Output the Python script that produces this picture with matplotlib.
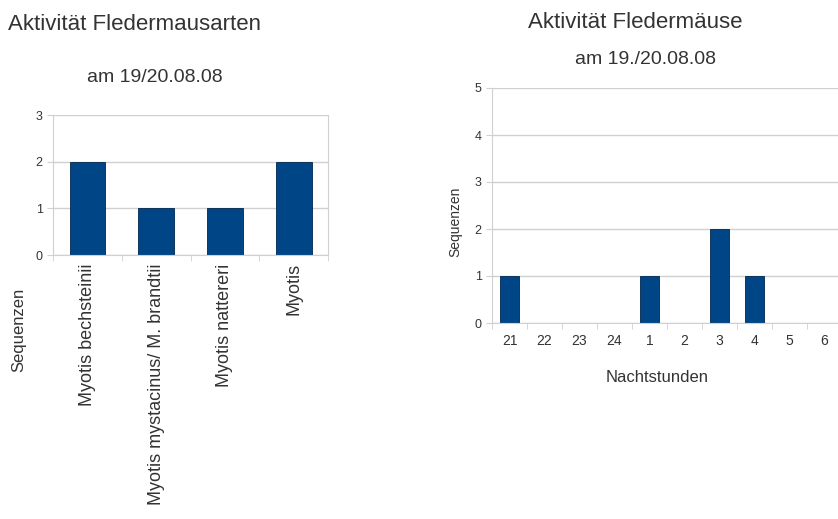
import numpy as np
import matplotlib.pyplot as plt

plt.rcParams['font.family'] = ['Liberation Sans', 'DejaVu Sans']

# ———————————————— data
arten = ['Myotis bechsteinii', 'Myotis mystacinus/ M. brandtii',
         'Myotis nattereri', 'Myotis']
arten_seq = [2, 1, 1, 2]

stunden = ['21', '22', '23', '24', '1', '2', '3', '4', '5', '6']
stunden_seq = [1, 0, 0, 0, 1, 0, 2, 1, 0, 0]

bar_col = '#004586'
grid_col = '#d0d0d0'
txt_col = '#333333'

W, H = 838, 519
fig = plt.figure(figsize=(W / 100, H / 100), dpi=100)


def px_axes(x0, y0, x1, y1):
    # pixel box (top-left origin) -> figure axes
    return fig.add_axes([x0 / W, 1 - y1 / H, (x1 - x0) / W, (y1 - y0) / H])


def style(ax, n, ymax):
    ax.set_xlim(-0.5, n - 0.5)
    ax.set_ylim(0, ymax)
    ax.set_yticks(np.arange(0, ymax + 1, 1))
    ax.set_xticks(np.arange(n + 1) - 0.5, minor=True)
    ax.tick_params(axis='x', which='major', length=0, colors=txt_col, labelsize=10)
    ax.tick_params(axis='x', which='minor', length=4, color=grid_col)
    ax.tick_params(axis='y', length=4, color=grid_col, colors=txt_col, labelsize=9)
    ax.yaxis.grid(True, color=grid_col, linewidth=1)
    ax.set_axisbelow(True)
    for s in ax.spines.values():
        s.set_color(grid_col)
    ax.spines['top'].set_visible(False)


# ———————————————— left chart
ax1 = px_axes(53, 115, 328, 255)
x = np.arange(len(arten))
ax1.bar(x, arten_seq, width=0.52, color=bar_col, edgecolor='#00264d', linewidth=0.6)
style(ax1, len(arten), 3)
ax1.set_xticks(x)
ax1.set_xticklabels(arten, rotation=90, fontsize=13)
ax1.tick_params(axis='x', which='major', pad=6)
fig.text(8 / W, 1 - 25 / H, 'Aktivität Fledermausarten', fontsize=16,
         color=txt_col, ha='left', va='center')
fig.text(155 / W, 1 - 77 / H, 'am 19/20.08.08', fontsize=14,
         color=txt_col, ha='center', va='center')
fig.text(19 / W, 1 - 330 / H, 'Sequenzen', fontsize=12, rotation=90,
         color=txt_col, ha='center', va='center')

# ———————————————— right chart
ax2 = px_axes(492, 88, 842, 323)
x2 = np.arange(len(stunden))
ax2.bar(x2, stunden_seq, width=0.54, color=bar_col, edgecolor='#00264d', linewidth=0.6)
style(ax2, len(stunden), 5)
ax2.set_xticks(x2)
ax2.set_xticklabels(stunden)
ax2.tick_params(axis='x', which='major', pad=8)
fig.text(635 / W, 1 - 23 / H, 'Aktivität Fledermäuse', fontsize=16,
         color=txt_col, ha='center', va='center')
fig.text(645 / W, 1 - 59 / H, 'am 19./20.08.08', fontsize=14,
         color=txt_col, ha='center', va='center')
fig.text(455 / W, 1 - 222 / H, 'Sequenzen', fontsize=10, rotation=90,
         color=txt_col, ha='center', va='center')
fig.text(657 / W, 1 - 378 / H, 'Nachtstunden', fontsize=12,
         color=txt_col, ha='center', va='center')

fig.savefig('out.png', dpi=100)
